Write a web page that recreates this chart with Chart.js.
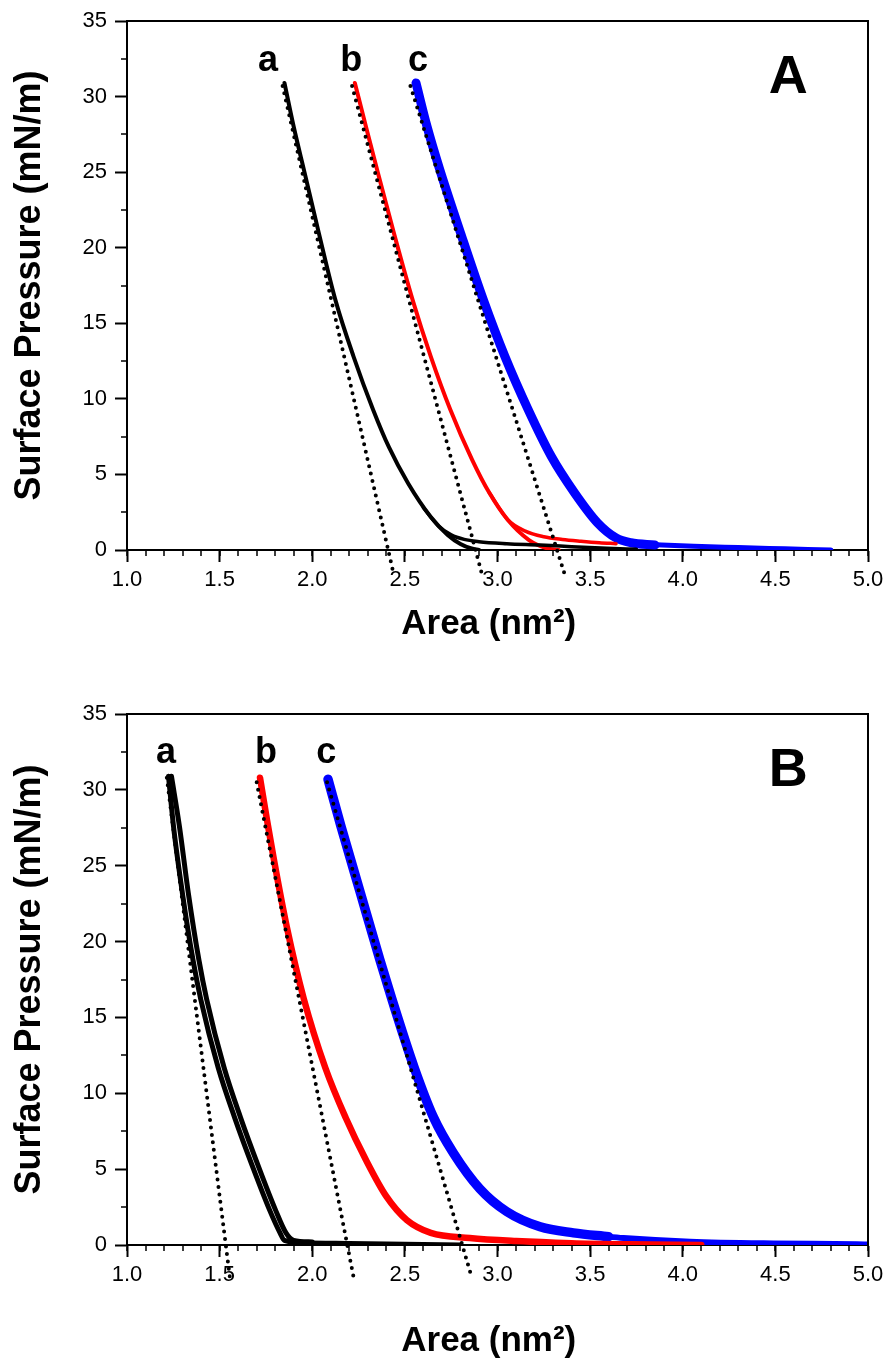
<!DOCTYPE html>
<html lang="en">
<head>
<meta charset="UTF-8">
<title>Surface pressure isotherms</title>
<style>
  html, body { margin: 0; padding: 0; background: #fff; }
  canvas { display: block; }
</style>
</head>
<body>
<canvas id="panelA" width="885" height="680"></canvas>
<canvas id="panelB" width="885" height="680"></canvas>
<script src="https://cdn.jsdelivr.net/npm/chart.js"></script>
<script>
// axis ticks and labels
const xTicks = [1.0, 1.5, 2.0, 2.5, 3.0, 3.5, 4.0, 4.5, 5.0];
const yTicks = [0, 5, 10, 15, 20, 25, 30, 35];
const xMinor = [];
for (let i = 10; i <= 50; i++) xMinor.push(i / 10);
const yMinor = [2.5, 7.5, 12.5, 17.5, 22.5, 27.5, 32.5];
const curveLabels = ['a', 'b', 'c'];
const panelLabels = ['A', 'B'];

// ---- panel A ----
// a (black): compression and expansion branch
const areaA_a1 = [1.85, 1.90, 1.958, 2.035, 2.126, 2.223, 2.328, 2.414, 2.518, 2.639, 2.731, 2.80, 2.86, 2.90];
const presA_a1 = [30.9, 28.0, 25.0, 21.0, 16.5, 12.8, 9.3, 6.8, 4.4, 2.2, 1.0, 0.4, 0.1, 0.0];
const areaA_a2 = [2.60, 2.68, 2.75, 2.82, 2.90, 3.05, 3.23, 3.40, 3.59, 3.75];
const presA_a2 = [2.8, 1.6, 1.0, 0.7, 0.55, 0.42, 0.33, 0.22, 0.12, 0.05];
// b (red)
const areaA_b1 = [2.23, 2.29, 2.347, 2.44, 2.543, 2.64, 2.745, 2.862, 2.955, 3.055, 3.17, 3.265, 3.33];
const presA_b1 = [30.9, 28.0, 25.3, 21.0, 16.5, 12.8, 9.3, 6.0, 3.8, 2.0, 0.66, 0.12, 0.0];
const areaA_b2 = [2.955, 3.055, 3.15, 3.25, 3.35, 3.45, 3.55, 3.64];
const presA_b2 = [3.8, 2.0, 1.25, 0.88, 0.7, 0.58, 0.48, 0.42];
// c (blue)
const areaA_c1 = [2.56, 2.62, 2.685, 2.80, 2.925, 3.04, 3.165, 3.29, 3.415, 3.54, 3.64, 3.72, 3.85];
const presA_c1 = [30.9, 28.0, 25.3, 21.0, 16.5, 12.8, 9.3, 6.2, 3.8, 1.8, 0.8, 0.48, 0.33];
const areaA_c2 = [3.80, 4.06, 4.30, 4.55, 4.80];
const presA_c2 = [0.38, 0.24, 0.16, 0.08, 0.0];
// dotted tangents
const tanA_area = [[1.84, 2.437], [2.215, 2.917], [2.53, 3.365]];
const tanA_pres = [[30.7, -1.46], [30.7, -1.65], [30.7, -1.7]];

// ---- panel B ----
const areaB_a1 = [1.224, 1.251, 1.299, 1.356, 1.398, 1.492, 1.581, 1.680, 1.770, 1.826, 1.850, 1.95, 2.20, 2.50, 2.80];
const presB_a1 = [30.9, 27.6, 23.2, 18.8, 16.2, 11.7, 8.4, 5.1, 2.3, 0.8, 0.3, 0.15, 0.1, 0.05, 0.0];
const areaB_a2 = [1.240, 1.283, 1.331, 1.388, 1.430, 1.524, 1.613, 1.712, 1.802, 1.858, 1.900, 2.00];
const presB_a2 = [30.9, 27.6, 23.2, 18.8, 16.2, 11.7, 8.4, 5.1, 2.3, 0.8, 0.3, 0.2];
const areaB_b1 = [1.718, 1.756, 1.793, 1.862, 1.955, 2.07, 2.18, 2.29, 2.40, 2.51, 2.64, 2.85, 3.10, 3.40, 3.70, 4.10];
const presB_b1 = [30.8, 28.0, 25.4, 21.0, 16.2, 11.7, 8.4, 5.6, 3.2, 1.65, 0.8, 0.46, 0.26, 0.12, 0.05, 0.0];
const areaB_c1 = [2.085, 2.155, 2.26, 2.365, 2.43, 2.55, 2.655, 2.76, 2.905, 3.05, 3.23, 3.41, 3.60];
const presB_c1 = [30.7, 27.6, 23.2, 18.8, 16.2, 11.7, 8.4, 6.1, 3.7, 2.2, 1.2, 0.8, 0.55];
const areaB_c2 = [3.55, 3.68, 4.04, 4.49, 4.94, 5.0];
const presB_c2 = [0.6, 0.46, 0.22, 0.1, 0.05, 0.03];
const tanB_area = [[1.215, 1.556], [1.70, 2.226], [2.08, 2.86]];
const tanB_pres = [[30.8, -2.2], [30.5, -2.3], [30.5, -2.1]];

const FONT = '"Liberation Sans", Arial, sans-serif';

function curve(xs, ys, color, width, extra) {
  return Object.assign({
    data: xs.map((v, i) => ({ x: v, y: ys[i] })),
    borderColor: color,
    borderWidth: width,
    pointRadius: 0,
    fill: false,
    cubicInterpolationMode: 'monotone',
    borderCapStyle: 'round',
    borderJoinStyle: 'round'
  }, extra || {});
}

function tangent(xs, ys) {
  return curve(xs, ys, '#000', 4, { borderDash: [0, 7.5], clip: false, cubicInterpolationMode: 'default', tension: 0 });
}

// frame, minor ticks and text labels
const decorPlugin = {
  id: 'panelDecor',
  afterDraw(chart, args, opts) {
    const { ctx, chartArea: ca, scales: { x, y } } = chart;
    ctx.save();
    ctx.strokeStyle = '#000';
    ctx.lineWidth = 2;
    ctx.beginPath();
    ctx.moveTo(ca.left, ca.top);
    ctx.lineTo(ca.right, ca.top);
    ctx.lineTo(ca.right, ca.bottom);
    ctx.stroke();

    ctx.lineWidth = 1.5;
    ctx.beginPath();
    xMinor.forEach(v => {
      const px = Math.round(x.getPixelForValue(v));
      ctx.moveTo(px, ca.bottom);
      ctx.lineTo(px, ca.bottom + 6);
    });
    yMinor.forEach(v => {
      const py = Math.round(y.getPixelForValue(v));
      ctx.moveTo(ca.left, py);
      ctx.lineTo(ca.left - 6, py);
    });
    ctx.stroke();

    ctx.fillStyle = '#000';
    ctx.textAlign = 'center';
    ctx.textBaseline = 'alphabetic';
    opts.labels.forEach(l => {
      ctx.font = 'bold ' + l.size + 'px ' + FONT;
      ctx.fillText(l.text, x.getPixelForValue(l.x), y.getPixelForValue(l.y));
    });
    ctx.restore();
  }
};

function makeChart(id, datasets, labels, padTop, xHeight, xTitlePad) {
  return new Chart(document.getElementById(id), {
    type: 'line',
    data: { datasets: datasets },
    options: {
      responsive: false,
      animation: false,
      layout: { padding: { top: padTop, right: 17, bottom: 0, left: 0 } },
      plugins: {
        legend: { display: false },
        tooltip: { enabled: false },
        panelDecor: { labels: labels }
      },
      scales: {
        x: {
          type: 'linear',
          min: 1,
          max: 5,
          afterFit: s => { s.height = xHeight; s.paddingLeft = 0; s.paddingRight = 0; },
          afterBuildTicks: s => { s.ticks = xTicks.map(v => ({ value: v })); },
          grid: { drawOnChartArea: false, tickLength: 12, tickWidth: 2, tickColor: '#000' },
          border: { color: '#000', width: 2 },
          ticks: {
            color: '#000', padding: 5, autoSkip: false, maxRotation: 0,
            font: { family: FONT, size: 22 },
            callback: v => v.toFixed(1)
          },
          title: {
            display: true, text: 'Area (nm\u00B2)\u2002', color: '#000',
            font: { family: FONT, size: 35, weight: 'bold', lineHeight: 1 },
            padding: { top: 0, bottom: xTitlePad }
          }
        },
        y: {
          min: 0,
          max: 35,
          afterFit: s => { s.width = 127; s.paddingTop = 0; s.paddingBottom = 0; },
          afterBuildTicks: s => { s.ticks = yTicks.map(v => ({ value: v })); },
          grid: { drawOnChartArea: false, tickLength: 12, tickWidth: 2, tickColor: '#000' },
          border: { color: '#000', width: 2 },
          ticks: {
            color: '#000', padding: 8, autoSkip: false,
            font: { family: FONT, size: 22 }
          },
          title: {
            display: true, text: 'Surface Pressure (mN/m)', color: '#000',
            font: { family: FONT, size: 36, weight: 'bold', lineHeight: 1 },
            padding: { top: 12, bottom: 0 }
          }
        }
      }
    },
    plugins: [decorPlugin]
  });
}

const BLACK = '#000000', RED = '#ff0000', BLUE = '#0000ff';

makeChart('panelA', [
  tangent(tanA_area[0], tanA_pres[0]),
  tangent(tanA_area[1], tanA_pres[1]),
  tangent(tanA_area[2], tanA_pres[2]),
  curve(areaA_a1, presA_a1, BLACK, 4),
  curve(areaA_a2, presA_a2, BLACK, 3.5),
  curve(areaA_b1, presA_b1, RED, 4),
  curve(areaA_b2, presA_b2, RED, 3.5),
  curve(areaA_c1, presA_c1, BLUE, 9),
  curve(areaA_c2, presA_c2, BLUE, 5)
], [
  { text: curveLabels[0], x: 1.761, y: 31.7, size: 36 },
  { text: curveLabels[1], x: 2.21, y: 31.7, size: 36 },
  { text: curveLabels[2], x: 2.571, y: 31.7, size: 36 },
  { text: panelLabels[0], x: 4.569, y: 30.25, size: 54 }
], 21, 130, 38);

makeChart('panelB', [
  tangent(tanB_area[0], tanB_pres[0]),
  tangent(tanB_area[1], tanB_pres[1]),
  tangent(tanB_area[2], tanB_pres[2]),
  curve(areaB_a1, presB_a1, BLACK, 5),
  curve(areaB_a2, presB_a2, BLACK, 5),
  curve(areaB_b1, presB_b1, RED, 6.5),
  curve(areaB_c1, presB_c1, BLUE, 9.5),
  curve(areaB_c2, presB_c2, BLUE, 6)
], [
  { text: curveLabels[0], x: 1.21, y: 31.77, size: 36 },
  { text: curveLabels[1], x: 1.75, y: 31.77, size: 36 },
  { text: curveLabels[2], x: 2.075, y: 31.77, size: 36 },
  { text: panelLabels[1], x: 4.569, y: 30.26, size: 54 }
], 34, 115, 1);
</script>
</body>
</html>
